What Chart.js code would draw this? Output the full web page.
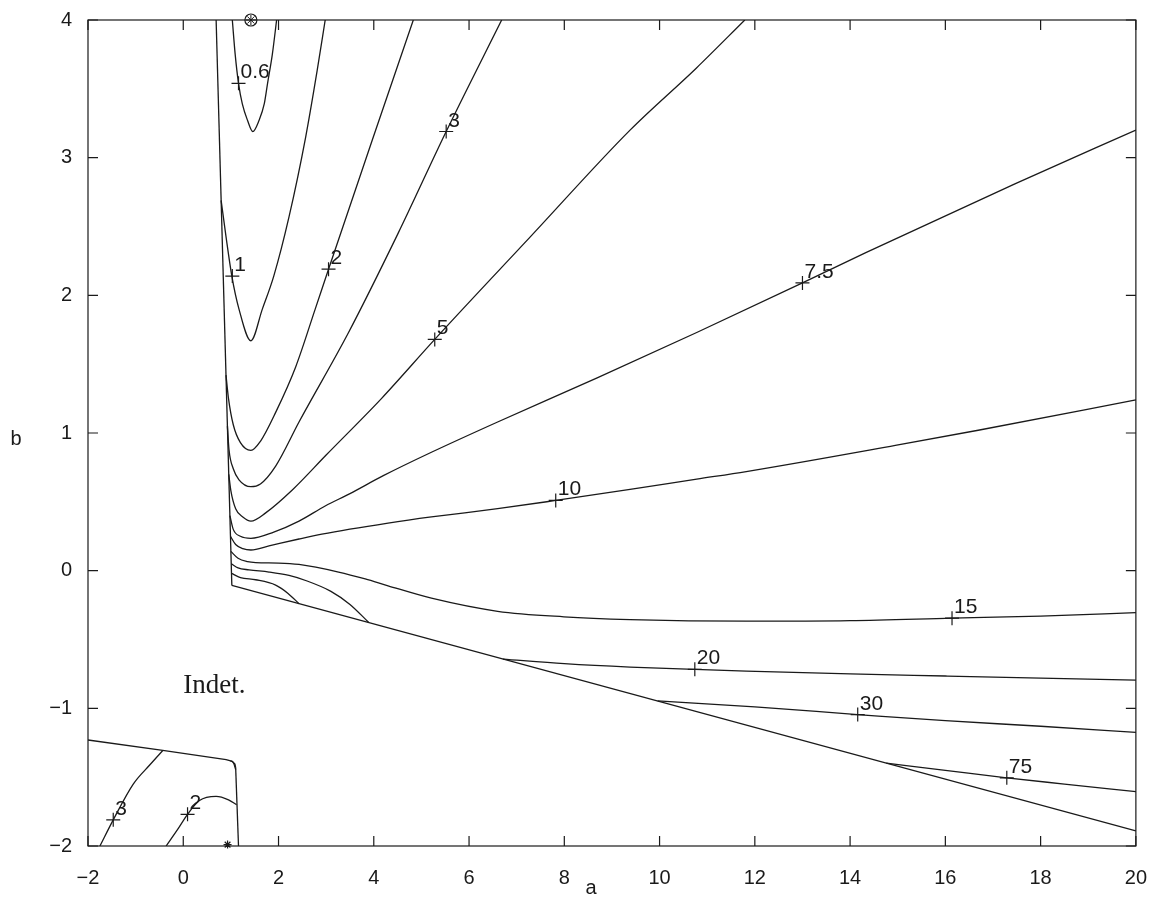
<html>
<head>
	<meta charset="UTF-8" />
	<script src="https://cdn.jsdelivr.net/npm/chart.js@4.4.0/dist/chart.umd.min.js"></script>
	<style>body { margin: 0; background: #fff; }</style>
</head>
<body>
	<canvas id="myChart" width="1159" height="904"></canvas>
	<script>
// contour lines as [a, b] pairs
const c06 = [[1.03, 4], [1.09, 3.75], [1.16, 3.54], [1.24, 3.39], [1.35, 3.27], [1.46, 3.19], [1.59, 3.27], [1.70, 3.39], [1.77, 3.54], [1.87, 3.75], [1.96, 4]];
const c1 = [[0.795, 2.69], [0.896, 2.43], [1.02, 2.14], [1.17, 1.90], [1.42, 1.67], [1.66, 1.90], [1.90, 2.14], [2.22, 2.57], [2.57, 3.15], [2.81, 3.63], [2.98, 4]];
const c2 = [[0.897, 1.42], [0.95, 1.25], [1.05, 1.06], [1.2, 0.93], [1.42, 0.874], [1.62, 0.94], [1.94, 1.15], [2.36, 1.48], [2.77, 1.90], [3.05, 2.19], [3.99, 3.15], [4.83, 4]];
const c3 = [[0.927, 1.05], [0.96, 0.88], [1.05, 0.74], [1.17, 0.66], [1.42, 0.61], [1.62, 0.63], [1.94, 0.76], [2.43, 1.08], [3.47, 1.73], [4.51, 2.45], [5.52, 3.19], [6.685, 4]];
const c5 = [[0.955, 0.70], [1.0, 0.58], [1.10, 0.45], [1.25, 0.39], [1.42, 0.36], [1.73, 0.42], [2.3, 0.59], [3.0, 0.84], [4.16, 1.25], [5.28, 1.68], [7.30, 2.43], [9.38, 3.2], [10.77, 3.65], [11.79, 4]];
const c75 = [[0.979, 0.40], [1.05, 0.30], [1.2, 0.25], [1.42, 0.235], [1.9, 0.28], [2.43, 0.36], [2.98, 0.47], [3.5, 0.56], [4.2, 0.69], [5.21, 0.86], [6.6, 1.08], [8.69, 1.40], [10.78, 1.73], [13.0, 2.09], [14.33, 2.31], [17.46, 2.81], [20, 3.20]];
const c10 = [[0.991, 0.25], [1.1, 0.19], [1.25, 0.16], [1.42, 0.15], [1.8, 0.18], [2.43, 0.23], [2.91, 0.265], [4.30, 0.345], [5.21, 0.39], [6.6, 0.45], [7.82, 0.51], [9.38, 0.59], [10.78, 0.665], [11.82, 0.72], [14.95, 0.91], [16.69, 1.02], [20, 1.24]];
const c15 = [[1.0, 0.14], [1.15, 0.09], [1.35, 0.065], [1.52, 0.058], [2.0, 0.055], [2.43, 0.045], [3.26, -0.01], [3.82, -0.06], [4.30, -0.11], [5.21, -0.2], [6.6, -0.295], [7.99, -0.335], [9.38, -0.355], [11.82, -0.367], [14.0, -0.363], [16.14, -0.345], [18, -0.33], [20, -0.305]];
const cLow1 = [[1.007, 0.05], [1.15, 0.02], [1.38, 0.006], [1.8, -0.01], [2.22, -0.035], [2.6, -0.075], [3.1, -0.15], [3.5, -0.245], [3.89, -0.375]];
const cLow2 = [[1.013, -0.02], [1.2, -0.05], [1.52, -0.066], [1.94, -0.105], [2.2, -0.165], [2.43, -0.24]];
const c20 = [[6.71, -0.642], [8, -0.675], [9.38, -0.70], [10.74, -0.717], [11.82, -0.729], [14, -0.75], [16, -0.765], [18, -0.78], [20, -0.795]];
const c30 = [[9.96, -0.946], [12, -0.99], [14.16, -1.045], [16, -1.09], [18, -1.13], [20, -1.175]];
const c75b = [[14.76, -1.398], [16, -1.45], [17.29, -1.505], [18.5, -1.55], [20, -1.605]];
const edgeLeft = [[0.69, 4], [1.02, -0.107]];
const edgeLower = [[1.02, -0.107], [20, -1.89]];
// lower-left region
const boxTop = [[-2, -1.23], [-0.43, -1.306], [0.90, -1.372], [1.03, -1.385], [1.085, -1.405], [1.10, -1.43]];
const boxSide = [[1.10, -1.43], [1.16, -2]];
const boxArc = [[0.99, -1.38], [1.06, -1.40], [1.10, -1.445]];
const bl3 = [[-1.75, -2], [-1.47, -1.81], [-1.05, -1.55], [-0.70, -1.41], [-0.43, -1.306]];
const bl2 = [[-0.36, -2], [-0.1, -1.87], [0.09, -1.77], [0.34, -1.67], [0.69, -1.64], [0.95, -1.665], [1.12, -1.70]];

// contour labels and their + marks
const labelText = ['0.6', '1', '2', '3', '5', '7.5', '10', '15', '20', '30', '75', '3', '2'];
const labelA = [1.16, 1.03, 3.05, 5.52, 5.28, 13.0, 7.82, 16.14, 10.74, 14.16, 17.29, -1.47, 0.09];
const labelB = [3.54, 2.14, 2.19, 3.19, 1.68, 2.09, 0.51, -0.345, -0.717, -1.045, -1.505, -1.81, -1.77];

const topMark = [[1.42, 4]];
const bottomMark = [[0.93, -1.99]];

const regionText = ['Indet.'];
const regionA = [0.0];
const regionB = [-0.89];

const xTicks = [-2, 0, 2, 4, 6, 8, 10, 12, 14, 16, 18, 20];
const yTicks = [-2, -1, 0, 1, 2, 3, 4];

const ink = '#1a1a1a';
const toXY = pts => pts.map(p => ({ x: p[0], y: p[1] }));
const line = (pts, smooth) => ({
	data: toXY(pts), showLine: true, borderColor: ink, borderWidth: 1.3,
	pointRadius: 0, fill: false,
	cubicInterpolationMode: smooth ? 'monotone' : 'default', tension: 0
});

const curves = [c06, c1, c2, c3, c5, c75, c10, c15, cLow1, cLow2, c20, c30, c75b, boxArc, bl3, bl2];
const straight = [edgeLeft, edgeLower, boxTop, boxSide];

const datasets = curves.map(c => line(c, true)).concat(straight.map(s => line(s, false)));
const labelIdx = datasets.length;
datasets.push({
	data: labelA.map((a, i) => ({ x: a, y: labelB[i] })),
	pointStyle: 'cross', pointRadius: 7, pointBorderWidth: 1.2, borderColor: ink, showLine: false, clip: false
});
datasets.push({ data: toXY(topMark), pointStyle: 'circle', pointRadius: 6, pointBorderWidth: 1.2, borderColor: ink, backgroundColor: 'rgba(0,0,0,0)', showLine: false, clip: false });
datasets.push({ data: toXY(topMark), pointStyle: 'star', pointRadius: 5, pointBorderWidth: 1, borderColor: ink, showLine: false, clip: false });
datasets.push({ data: toXY(bottomMark), pointStyle: 'star', pointRadius: 4, pointBorderWidth: 1.2, borderColor: ink, showLine: false, clip: false });

const tickText = v => (v < 0 ? '\u2212' + Math.abs(v) : String(v));

const frame = {
	id: 'frame',
	afterDatasetsDraw(chart) {
		const { ctx, chartArea: ca, scales: { x, y } } = chart;
		ctx.save();
		ctx.strokeStyle = ink;
		ctx.lineWidth = 1.2;
		ctx.strokeRect(ca.left, ca.top, ca.right - ca.left, ca.bottom - ca.top);
		ctx.beginPath();
		xTicks.forEach(v => {
			const px = x.getPixelForValue(v);
			ctx.moveTo(px, ca.bottom); ctx.lineTo(px, ca.bottom - 10);
			ctx.moveTo(px, ca.top); ctx.lineTo(px, ca.top + 10);
		});
		yTicks.forEach(v => {
			const py = y.getPixelForValue(v);
			ctx.moveTo(ca.left, py); ctx.lineTo(ca.left + 10, py);
			ctx.moveTo(ca.right, py); ctx.lineTo(ca.right - 10, py);
		});
		ctx.stroke();

		ctx.fillStyle = ink;
		ctx.font = '21px "Liberation Sans"';
		ctx.textAlign = 'left';
		ctx.textBaseline = 'alphabetic';
		chart.getDatasetMeta(labelIdx).data.forEach((pt, i) => ctx.fillText(labelText[i], pt.x + 2, pt.y - 5));

		ctx.font = '27px "Liberation Serif"';
		regionText.forEach((t, i) => ctx.fillText(t, x.getPixelForValue(regionA[i]), y.getPixelForValue(regionB[i])));

		ctx.font = '20px "Liberation Sans"';
		ctx.textAlign = 'center';
		ctx.textBaseline = 'middle';
		ctx.fillText('a', ca.left + 0.48 * (ca.right - ca.left), ca.bottom + 42);
		ctx.fillText('b', 16, (ca.top + ca.bottom) / 2 + 6);
		ctx.restore();
	}
};

const chart = new Chart(document.getElementById('myChart').getContext('2d'), {
	type: 'scatter',
	data: { datasets: datasets },
	options: {
		responsive: false,
		animation: false,
		layout: { padding: { top: 16, right: 17, left: 0, bottom: 0 } },
		scales: {
			x: {
				type: 'linear', min: -2, max: 20,
				grid: { display: false }, border: { display: false },
				ticks: { stepSize: 2, padding: 12, color: ink, font: { family: 'Liberation Sans', size: 20 }, callback: tickText },
				afterFit: s => { s.height = 58; }
			},
			y: {
				type: 'linear', min: -2, max: 4,
				grid: { display: false }, border: { display: false },
				ticks: { stepSize: 1, padding: 8, color: ink, font: { family: 'Liberation Sans', size: 20 }, callback: tickText },
				afterFit: s => { s.width = 88; }
			}
		},
		plugins: { legend: { display: false }, tooltip: { enabled: false } }
	},
	plugins: [frame]
});
	</script>
</body>
</html>
